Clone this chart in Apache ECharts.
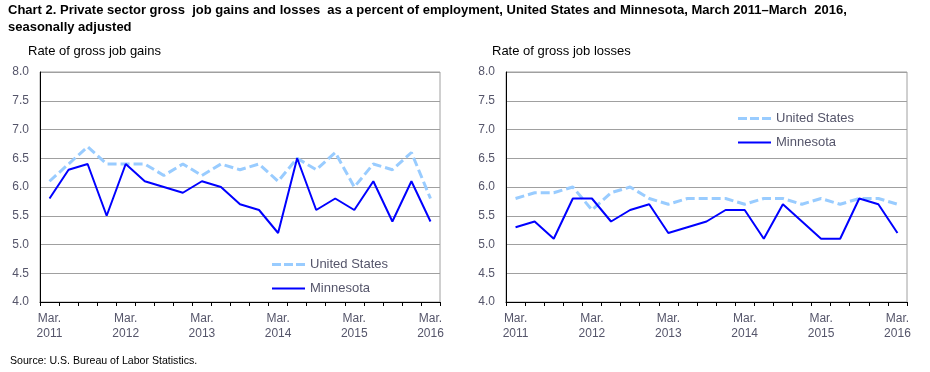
<!DOCTYPE html>
<html><head><meta charset="utf-8">
<script src="https://cdn.jsdelivr.net/npm/echarts@6/dist/echarts.min.js"></script>
<style>html,body{margin:0;padding:0;background:#fff}#c{width:930px;height:372px}</style>
</head><body><div id="c"></div>
<script>
var quarters = ["Mar. 2011","Jun. 2011","Sep. 2011","Dec. 2011","Mar. 2012","Jun. 2012","Sep. 2012","Dec. 2012","Mar. 2013","Jun. 2013","Sep. 2013","Dec. 2013","Mar. 2014","Jun. 2014","Sep. 2014","Dec. 2014","Mar. 2015","Jun. 2015","Sep. 2015","Dec. 2015","Mar. 2016"];
var usGains = [6.1,6.4,6.7,6.4,6.4,6.4,6.2,6.4,6.2,6.4,6.3,6.4,6.1,6.5,6.3,6.6,6.0,6.4,6.3,6.6,5.8];
var mnGains = [5.8,6.3,6.4,5.5,6.4,6.1,6.0,5.9,6.1,6.0,5.7,5.6,5.2,6.5,5.6,5.8,5.6,6.1,5.4,6.1,5.4];
var usLosses = [5.8,5.9,5.9,6.0,5.6,5.9,6.0,5.8,5.7,5.8,5.8,5.8,5.7,5.8,5.8,5.7,5.8,5.7,5.8,5.8,5.7];
var mnLosses = [5.3,5.4,5.1,5.8,5.8,5.4,5.6,5.7,5.2,5.3,5.4,5.6,5.6,5.1,5.7,5.4,5.1,5.1,5.8,5.7,5.2];
var seriesNames = ['United States','Minnesota'];
var yMin = 4.0, yMax = 8.0, yStep = 0.5;

var chart = echarts.init(document.getElementById('c'));
var lblColor = '#55556a';
var font = 'Liberation Sans, Arial, sans-serif';
function xAxis(gi){
  return {type:'category', gridIndex:gi, data:quarters, boundaryGap:true,
    axisLine:{lineStyle:{color:'#000',width:1}},
    axisTick:{show:true, interval:0, length:4, inside:false, lineStyle:{color:'#000'}},
    axisLabel:{interval:function(i){return i%4===0;}, color:lblColor, fontFamily:font, fontSize:12, lineHeight:15, margin:9,
      formatter:function(v){return v.replace(' ','\n');}},
    splitLine:{show:false}};
}
function yAxis(gi){
  return {type:'value', gridIndex:gi, min:yMin, max:yMax, interval:yStep,
    axisLine:{show:true, lineStyle:{color:'#000'}},
    axisTick:{show:false},
    axisLabel:{color:lblColor, fontFamily:font, fontSize:12, margin:11, formatter:function(v){return v.toFixed(1);}},
    splitLine:{show:true, lineStyle:{color:'#a0a0a0', width:1}}};
}
var usStyle = {color:'#99ccff', width:3, type:[9,4]};
var mnStyle = {color:'#0000ff', width:2};
function s(name, data, gi, style){
  return {type:'line', name:name, data:data, xAxisIndex:gi, yAxisIndex:gi, symbol:'none', showSymbol:false,
    lineStyle:style, itemStyle:{color:style.color}, animation:false, z: name==='Minnesota'?3:2};
}
var legendIcons = {
  'United States':'path://M0 0h9v3H0z M12 0h9v3h-9z M24 0h9v3h-9z',
  'Minnesota':'path://M0 0h33v2H0z'
};
function legend(left, top){
  return {orient:'vertical', left:left, top:top, padding:0,
    data:seriesNames.map(function(n){return {name:n, icon:legendIcons[n]};}),
    itemWidth:33, itemHeight:14, itemGap:11, symbolKeepAspect:true,
    textStyle:{color:lblColor, fontFamily:font, fontSize:13}, selectedMode:false};
}
chart.setOption({
  animation:false,
  title:[
    {text:'Chart 2. Private sector gross  job gains and losses  as a percent of employment, United States and Minnesota, March 2011\u2013March  2016,\nseasonally adjusted',
     left:8, top:2, padding:0, textStyle:{fontFamily:font, fontSize:13, fontWeight:'bold', color:'#000', lineHeight:17}},
    {text:'Rate of gross job gains', left:28, top:45, padding:0, textStyle:{fontFamily:font, fontSize:13, fontWeight:'normal', color:'#000'}},
    {text:'Rate of gross job losses', left:492, top:45, padding:0, textStyle:{fontFamily:font, fontSize:13, fontWeight:'normal', color:'#000'}},
    {text:'Source: U.S. Bureau of Labor Statistics.', left:10, top:356, padding:0, textStyle:{fontFamily:font, fontSize:10.6, fontWeight:'normal', color:'#000'}}
  ],
  grid:[
    {left:40, top:72, width:400, height:230, show:true, borderColor:'#a0a0a0', borderWidth:1},
    {left:506, top:72, width:401, height:230, show:true, borderColor:'#a0a0a0', borderWidth:1}
  ],
  xAxis:[xAxis(0), xAxis(1)],
  yAxis:[yAxis(0), yAxis(1)],
  legend:[legend(272, 258), legend(738, 112)],
  series:[
    s('United States', usGains, 0, usStyle),
    s('Minnesota', mnGains, 0, mnStyle),
    s('United States', usLosses, 1, usStyle),
    s('Minnesota', mnLosses, 1, mnStyle)
  ]
});
</script></body></html>
